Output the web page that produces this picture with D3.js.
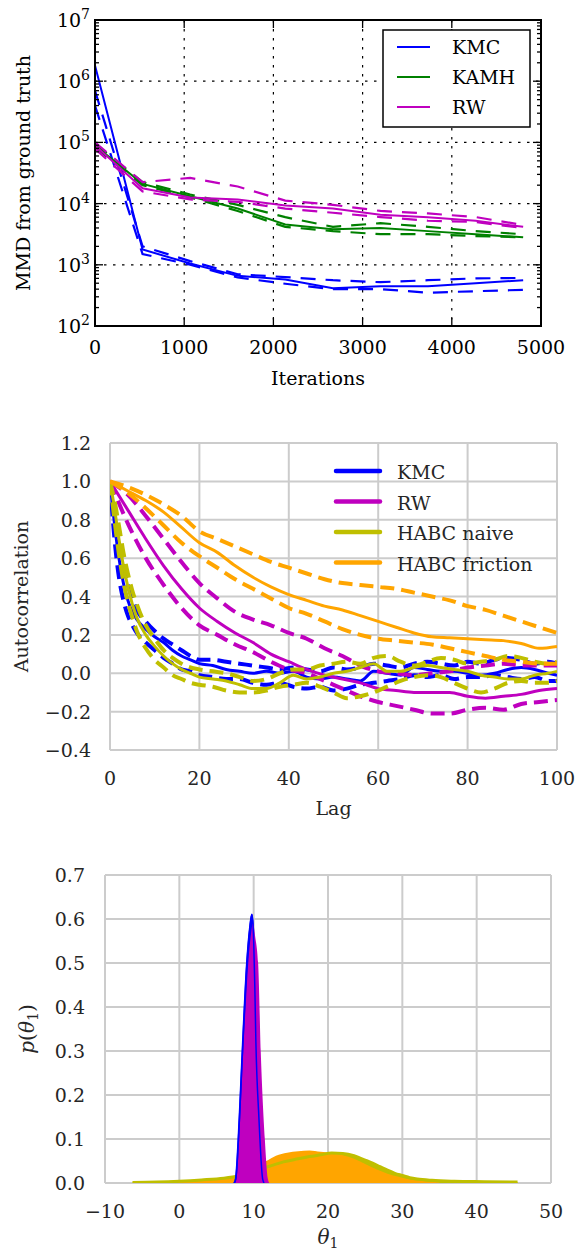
<!DOCTYPE html>
<html>
<head>
<meta charset="utf-8">
<script src="https://cdn.jsdelivr.net/npm/d3@7"></script>
<style>
  body { margin: 0; background: #fff; }
  svg { display: block; }
</style>
</head>
<body>
<svg id="fig" width="575" height="1257" font-family="'DejaVu Serif', 'Liberation Serif', serif"></svg>
<script>
// ---------- Panel 1: MMD from ground truth vs iterations ----------
const mmdIters = [0, 533, 1067, 1600, 2133, 2667, 3200, 3733, 4267, 4800];
const kmcMMD   = [1.8e6, 1780, 1050, 660, 575, 415, 445, 445, 500, 560];
const kmcMMDHi = [7.0e5, 2000, 1150, 700, 630, 560, 520, 560, 600, 610];
const kmcMMDLo = [4.0e5, 1500, 1000, 620, 490, 400, 400, 350, 370, 390];
const kamhMMD   = [8.9e4, 2.1e4, 1.32e4, 8300, 4570, 3800, 3980, 3550, 3160, 2820];
const kamhMMDHi = [9.5e4, 2.24e4, 1.41e4, 9550, 6000, 4170, 4790, 4170, 3550, 3160];
const kamhMMDLo = [8.3e4, 2.0e4, 1.26e4, 7590, 4170, 3550, 3160, 3160, 2950, 2820];
const rwMMD   = [8.9e4, 1.78e4, 1.26e4, 1.17e4, 9300, 8300, 6600, 6000, 5250, 4170];
const rwMMDHi = [1.0e5, 2.24e4, 2.63e4, 1.9e4, 1.12e4, 9550, 7590, 6900, 6030, 4470];
const rwMMDLo = [7.9e4, 1.58e4, 1.17e4, 1.07e4, 8300, 7080, 6030, 5250, 5010, 3980];
const mmdXTicks = [0, 1000, 2000, 3000, 4000, 5000];
const mmdYExps = [2, 3, 4, 5, 6, 7];
const mmdNames = ["KMC", "KAMH", "RW"];

// ---------- Panel 2: autocorrelation vs lag ----------
const lagsFine = [0,1,2,3,4,5,6,8,10,12,14,16,18,20,23,26,29,32,35,38,41,44,47,50,53,56,59,62,65,68,71,74,77,80,83,86,89,92,95,98,100];
const lagsCoarse = [0,4,8,12,16,20,24,28,32,36,40,44,48,52,56,60,64,68,72,76,80,84,88,92,96,100];
const acKmc   = [1.0,0.78,0.60,0.47,0.38,0.32,0.28,0.23,0.19,0.16,0.12,0.09,0.07,0.05,0.04,0.02,0.01,0.0,0.01,0.0,0.01,-0.02,-0.03,-0.02,-0.03,-0.04,0.01,0.0,-0.01,0.03,0.02,0.01,0.01,0.0,-0.01,0.0,0.02,0.03,0.02,0.0,-0.01];
const acKmcHi = [1.0,0.84,0.68,0.56,0.46,0.39,0.33,0.27,0.22,0.18,0.15,0.12,0.09,0.07,0.07,0.06,0.05,0.04,0.03,0.02,0.03,0.02,0.01,0.03,0.02,0.03,0.05,0.04,0.03,0.05,0.06,0.05,0.04,0.06,0.05,0.07,0.08,0.07,0.05,0.06,0.05];
const acKmcLo = [1.0,0.70,0.50,0.38,0.30,0.25,0.21,0.16,0.12,0.08,0.05,0.02,0.01,-0.01,-0.02,-0.03,-0.03,-0.05,-0.06,-0.05,-0.07,-0.08,-0.07,-0.09,-0.08,-0.06,-0.05,-0.04,-0.03,-0.01,-0.02,-0.01,-0.03,-0.02,-0.02,-0.01,-0.02,-0.03,-0.02,-0.04,-0.04];
const acNaive   = [1.0,0.86,0.70,0.56,0.45,0.36,0.29,0.20,0.14,0.09,0.05,0.02,0.0,-0.02,-0.03,-0.04,-0.06,-0.08,-0.08,-0.05,-0.01,-0.03,-0.02,0.0,0.01,0.03,0.05,0.01,0.01,0.03,0.04,0.03,0.02,0.01,-0.01,-0.02,-0.03,-0.03,-0.01,0.0,0.01];
const acNaiveHi = [1.0,0.90,0.77,0.63,0.52,0.43,0.36,0.25,0.18,0.12,0.08,0.05,0.03,0.02,0.01,0.0,-0.02,-0.04,-0.03,0.0,0.02,0.02,0.04,0.05,0.06,0.05,0.08,0.09,0.06,0.04,0.06,0.08,0.07,0.05,0.06,0.07,0.09,0.08,0.06,0.05,0.06];
const acNaiveLo = [1.0,0.80,0.62,0.48,0.37,0.29,0.22,0.13,0.07,0.03,-0.01,-0.03,-0.05,-0.06,-0.07,-0.09,-0.10,-0.10,-0.09,-0.07,-0.06,-0.05,-0.07,-0.10,-0.13,-0.12,-0.10,-0.07,-0.04,-0.02,-0.01,-0.02,-0.05,-0.08,-0.10,-0.08,-0.05,-0.04,-0.05,-0.05,-0.04];
const acRw   = [1.0,0.85,0.70,0.56,0.44,0.34,0.27,0.21,0.16,0.10,0.06,0.02,-0.01,-0.03,-0.05,-0.08,-0.09,-0.10,-0.10,-0.10,-0.12,-0.13,-0.12,-0.11,-0.09,-0.08];
const acRwHi = [1.0,0.93,0.82,0.70,0.58,0.47,0.39,0.32,0.28,0.25,0.21,0.18,0.13,0.09,0.04,0.01,0.0,-0.01,0.0,0.01,0.03,0.04,0.05,0.04,0.04,0.04];
const acRwLo = [1.0,0.78,0.60,0.46,0.34,0.25,0.20,0.15,0.11,0.06,0.02,0.0,-0.04,-0.08,-0.12,-0.15,-0.17,-0.19,-0.21,-0.21,-0.19,-0.18,-0.19,-0.16,-0.15,-0.14];
const acFric   = [1.0,0.95,0.90,0.84,0.76,0.68,0.63,0.56,0.50,0.45,0.41,0.38,0.35,0.33,0.30,0.27,0.24,0.21,0.19,0.185,0.18,0.175,0.17,0.155,0.13,0.14];
const acFricHi = [1.0,0.97,0.93,0.88,0.82,0.74,0.70,0.66,0.62,0.58,0.55,0.52,0.49,0.47,0.46,0.45,0.44,0.42,0.40,0.38,0.35,0.33,0.30,0.27,0.24,0.21];
const acFricLo = [1.0,0.94,0.86,0.77,0.68,0.61,0.55,0.49,0.44,0.39,0.34,0.31,0.27,0.23,0.20,0.18,0.17,0.16,0.15,0.13,0.11,0.09,0.07,0.06,0.05,0.05];
const acXTicks = [0, 20, 40, 60, 80, 100];
const acYTicks = [-0.4, -0.2, 0.0, 0.2, 0.4, 0.6, 0.8, 1.0, 1.2];
const acNames = ["KMC", "RW", "HABC naive", "HABC friction"];

// ---------- Panel 3: marginal posterior densities of theta_1 ----------
const kmcTheta = [7.4, 7.6, 8.1, 8.5, 9.1, 9.5, 9.76, 10.0, 10.15, 10.3, 10.7, 11.2, 11.4];
const kmcDens  = [0, 0.01, 0.15, 0.3, 0.5, 0.58, 0.61, 0.55, 0.45, 0.32, 0.15, 0.01, 0];
const rwTheta  = [7.5, 7.7, 8.2, 8.6, 8.85, 9.27, 9.6, 9.9, 10.2, 10.6, 10.95, 11.5, 11.9, 12.1];
const rwDens   = [0, 0.01, 0.15, 0.3, 0.38, 0.5, 0.56, 0.59, 0.56, 0.5, 0.3, 0.1, 0.01, 0];
const fricTheta = [-5,-2,0,3,5,7,8.5,9.5,10.5,11.7,13,14.5,16,17.5,19,20.5,22,23.5,25,26.5,28,29.5,31,33,35];
const fricDens  = [0.001,0.002,0.004,0.008,0.011,0.014,0.02,0.03,0.04,0.05,0.062,0.069,0.072,0.074,0.071,0.068,0.063,0.055,0.043,0.031,0.021,0.014,0.008,0.004,0.001];
const naiveTheta = [-6.3,-3,0,3,6,8,9.5,11,12.5,14,16,17.5,19,20.5,22,23.5,25,26,27,28,29,30,31,32,34,37,41,45.5];
const naiveDens  = [0.001,0.002,0.004,0.007,0.011,0.016,0.022,0.032,0.040,0.048,0.055,0.060,0.064,0.068,0.067,0.062,0.052,0.045,0.037,0.029,0.022,0.017,0.012,0.009,0.006,0.004,0.003,0.002];
const thXTicks = [-10, 0, 10, 20, 30, 40, 50];
const thYTicks = [0.0, 0.1, 0.2, 0.3, 0.4, 0.5, 0.6, 0.7];

const BLUE = "#0000ff", GREEN = "#008000", MAGENTA = "#bf00bf", OLIVE = "#bfbf00", ORANGE = "#ffa500";
const GRIDC = "#cccccc", TXT = "#262626";
const FS = 19;
const fmtNum = v => (v < 0 ? "\u2212" : "") + Math.abs(v);
const fmt1 = v => (v < 0 ? "\u2212" : "") + d3.format(".1f")(Math.abs(v));

const svg = d3.select("#fig");
const defs = svg.append("defs");
function clip(id, b) {
  defs.append("clipPath").attr("id", id).append("rect")
    .attr("x", b.l).attr("y", b.t).attr("width", b.r - b.l).attr("height", b.b - b.t);
}

// ================= Panel 1 =================
const p1 = { l: 95, r: 541, t: 20, b: 326 };
clip("c1", p1);
const x1 = d3.scaleLinear().domain([0, 5000]).range([p1.l, p1.r]);
const y1 = d3.scaleLog().domain([1e2, 1e7]).range([p1.b, p1.t]);
const g1 = svg.append("g");

// dotted grid
g1.selectAll(".vg").data(mmdXTicks.slice(1, -1)).join("line")
  .attr("x1", d => x1(d)).attr("x2", d => x1(d)).attr("y1", p1.t).attr("y2", p1.b)
  .attr("stroke", "#000").attr("stroke-width", 1.2).attr("stroke-dasharray", "2.5,6.5");
g1.selectAll(".hg").data(mmdYExps.slice(1, -1)).join("line")
  .attr("x1", p1.l).attr("x2", p1.r).attr("y1", d => y1(10 ** d)).attr("y2", d => y1(10 ** d))
  .attr("stroke", "#000").attr("stroke-width", 1.2).attr("stroke-dasharray", "2.5,6.5");

// curves
const mmdSets = [
  { c: BLUE, mid: kmcMMD, hi: kmcMMDHi, lo: kmcMMDLo },
  { c: GREEN, mid: kamhMMD, hi: kamhMMDHi, lo: kamhMMDLo },
  { c: MAGENTA, mid: rwMMD, hi: rwMMDHi, lo: rwMMDLo }
];
const line1 = d3.line().x((d, i) => x1(mmdIters[i])).y(d => y1(d));
const lg1 = g1.append("g").attr("clip-path", "url(#c1)");
mmdSets.forEach(s => {
  [s.hi, s.lo].forEach(arr => lg1.append("path").attr("d", line1(arr)).attr("fill", "none")
    .attr("stroke", s.c).attr("stroke-width", 2.2).attr("stroke-dasharray", "15,10"));
  lg1.append("path").attr("d", line1(s.mid)).attr("fill", "none")
    .attr("stroke", s.c).attr("stroke-width", 2);
});

// ticks (inward, all four sides)
const tk = (x1_, y1_, x2_, y2_) => g1.append("line").attr("x1", x1_).attr("y1", y1_).attr("x2", x2_).attr("y2", y2_)
  .attr("stroke", "#000").attr("stroke-width", 1.3);
mmdXTicks.forEach(v => { tk(x1(v), p1.b, x1(v), p1.b - 8); tk(x1(v), p1.t, x1(v), p1.t + 8); });
mmdYExps.forEach(e => {
  const y = y1(10 ** e);
  tk(p1.l, y, p1.l + 8, y); tk(p1.r, y, p1.r - 8, y);
  if (e < 7) for (let m = 2; m <= 9; m++) {
    const ym = y1(m * 10 ** e);
    tk(p1.l, ym, p1.l + 4, ym); tk(p1.r, ym, p1.r - 4, ym);
  }
});
g1.append("rect").attr("x", p1.l).attr("y", p1.t).attr("width", p1.r - p1.l).attr("height", p1.b - p1.t)
  .attr("fill", "none").attr("stroke", "#000").attr("stroke-width", 2);

// tick labels
g1.selectAll(".xl").data(mmdXTicks).join("text")
  .attr("x", d => x1(d)).attr("y", 354).attr("text-anchor", "middle").attr("font-size", FS).text(d => d);
mmdYExps.forEach(e => {
  const t = g1.append("text").attr("x", 90).attr("y", y1(10 ** e) + 7).attr("text-anchor", "end").attr("font-size", FS);
  t.append("tspan").text("10");
  t.append("tspan").attr("dy", -8).attr("font-size", 14).text(e);
});
g1.append("text").attr("x", (p1.l + p1.r) / 2).attr("y", 385).attr("text-anchor", "middle").attr("font-size", FS).text("Iterations");
g1.append("text").attr("transform", `translate(30,${(p1.t + p1.b) / 2}) rotate(-90)`)
  .attr("text-anchor", "middle").attr("font-size", FS).text("MMD from ground truth");

// legend
g1.append("rect").attr("x", 383).attr("y", 30).attr("width", 147).attr("height", 97)
  .attr("fill", "#fff").attr("stroke", "#000").attr("stroke-width", 1.5);
mmdNames.forEach((n, i) => {
  const y = 47 + i * 30;
  g1.append("line").attr("x1", 397).attr("x2", 430).attr("y1", y).attr("y2", y)
    .attr("stroke", mmdSets[i].c).attr("stroke-width", 2);
  g1.append("text").attr("x", 452).attr("y", y + 7).attr("font-size", FS).text(n);
});

// ================= Panel 2 =================
const p2 = { l: 110, r: 557, t: 443, b: 750 };
clip("c2", p2);
const x2 = d3.scaleLinear().domain([0, 100]).range([p2.l, p2.r]);
const y2 = d3.scaleLinear().domain([-0.4, 1.2]).range([p2.b, p2.t]);
const g2 = svg.append("g");
g2.selectAll(".vg").data(acXTicks).join("line")
  .attr("x1", d => x2(d)).attr("x2", d => x2(d)).attr("y1", p2.t).attr("y2", p2.b)
  .attr("stroke", GRIDC).attr("stroke-width", 2);
g2.selectAll(".hg").data(acYTicks).join("line")
  .attr("x1", p2.l).attr("x2", p2.r).attr("y1", d => y2(d)).attr("y2", d => y2(d))
  .attr("stroke", GRIDC).attr("stroke-width", 2);

const acSets = [
  { c: BLUE, lags: lagsFine, mid: acKmc, hi: acKmcHi, lo: acKmcLo },
  { c: MAGENTA, lags: lagsCoarse, mid: acRw, hi: acRwHi, lo: acRwLo },
  { c: OLIVE, lags: lagsFine, mid: acNaive, hi: acNaiveHi, lo: acNaiveLo },
  { c: ORANGE, lags: lagsCoarse, mid: acFric, hi: acFricHi, lo: acFricLo }
];
const lg2 = g2.append("g").attr("clip-path", "url(#c2)");
acSets.forEach(s => {
  const ln = d3.line().x((d, i) => x2(s.lags[i])).y(d => y2(d)).curve(d3.curveMonotoneX);
  [s.hi, s.lo].forEach(arr => lg2.append("path").attr("d", ln(arr)).attr("fill", "none")
    .attr("stroke", s.c).attr("stroke-width", 4).attr("stroke-dasharray", "14,7"));
  lg2.append("path").attr("d", ln(s.mid)).attr("fill", "none")
    .attr("stroke", s.c).attr("stroke-width", 3).attr("stroke-linejoin", "round");
});

g2.selectAll(".xl").data(acXTicks).join("text")
  .attr("x", d => x2(d)).attr("y", 785).attr("text-anchor", "middle").attr("font-size", FS)
  .attr("fill", TXT).text(fmtNum);
g2.selectAll(".yl").data(acYTicks).join("text")
  .attr("x", 91).attr("y", d => y2(d) + 7).attr("text-anchor", "end").attr("font-size", FS)
  .attr("fill", TXT).text(fmt1);
g2.append("text").attr("x", (p2.l + p2.r) / 2).attr("y", 815).attr("text-anchor", "middle")
  .attr("font-size", FS).attr("fill", TXT).text("Lag");
g2.append("text").attr("transform", `translate(28,${(p2.t + p2.b) / 2}) rotate(-90)`)
  .attr("text-anchor", "middle").attr("font-size", FS).attr("fill", TXT).text("Autocorrelation");

acNames.forEach((n, i) => {
  const y = 471 + i * 30.5;
  g2.append("line").attr("x1", 336).attr("x2", 380).attr("y1", y).attr("y2", y)
    .attr("stroke", acSets[i].c).attr("stroke-width", 4.5).attr("stroke-linecap", "round");
  g2.append("text").attr("x", 397).attr("y", y + 8).attr("font-size", FS).attr("fill", TXT).text(n);
});

// ================= Panel 3 =================
const p3 = { l: 105, r: 551, t: 875, b: 1183 };
clip("c3", p3);
const x3 = d3.scaleLinear().domain([-10, 50]).range([p3.l, p3.r]);
const y3 = d3.scaleLinear().domain([0, 0.7]).range([p3.b, p3.t]);
const g3 = svg.append("g");
g3.selectAll(".vg").data(thXTicks).join("line")
  .attr("x1", d => x3(d)).attr("x2", d => x3(d)).attr("y1", p3.t).attr("y2", p3.b)
  .attr("stroke", GRIDC).attr("stroke-width", 2);
g3.selectAll(".hg").data(thYTicks).join("line")
  .attr("x1", p3.l).attr("x2", p3.r).attr("y1", d => y3(d)).attr("y2", d => y3(d))
  .attr("stroke", GRIDC).attr("stroke-width", 2);

const lg3 = g3.append("g").attr("clip-path", "url(#c3)");
function densArea(th, ds) {
  return d3.area().x((d, i) => x3(th[i])).y0(y3(0)).y1(d => y3(d)).curve(d3.curveMonotoneX)(ds);
}
function densLine(th, ds) {
  return d3.line().x((d, i) => x3(th[i])).y(d => y3(d)).curve(d3.curveMonotoneX)(ds);
}
lg3.append("path").attr("d", densArea(naiveTheta, naiveDens)).attr("fill", OLIVE);
lg3.append("path").attr("d", densArea(fricTheta, fricDens)).attr("fill", ORANGE);
lg3.append("path").attr("d", densLine(naiveTheta, naiveDens)).attr("fill", "none")
  .attr("stroke", OLIVE).attr("stroke-width", 3);
lg3.append("path").attr("d", densArea(kmcTheta, kmcDens)).attr("fill", BLUE)
  .attr("stroke", BLUE).attr("stroke-width", 2);
lg3.append("path").attr("d", densArea(rwTheta, rwDens)).attr("fill", MAGENTA);
lg3.append("path").attr("d", densLine(kmcTheta, kmcDens)).attr("fill", "none")
  .attr("stroke", BLUE).attr("stroke-width", 1.5);

g3.selectAll(".xl").data(thXTicks).join("text")
  .attr("x", d => x3(d)).attr("y", 1218).attr("text-anchor", "middle").attr("font-size", FS)
  .attr("fill", TXT).text(fmtNum);
g3.selectAll(".yl").data(thYTicks).join("text")
  .attr("x", 85).attr("y", d => y3(d) + 7).attr("text-anchor", "end").attr("font-size", FS)
  .attr("fill", TXT).text(fmt1);
const tl = g3.append("text").attr("x", (p3.l + p3.r) / 2).attr("y", 1244).attr("text-anchor", "middle")
  .attr("font-size", 20).attr("fill", TXT);
tl.append("tspan").attr("font-style", "italic").text("\u03b8");
tl.append("tspan").attr("dy", 4).attr("font-size", 14).text("1");
const yl3 = g3.append("text").attr("transform", `translate(34,${(p3.t + p3.b) / 2}) rotate(-90)`)
  .attr("text-anchor", "middle").attr("font-size", 20).attr("fill", TXT);
yl3.append("tspan").attr("font-style", "italic").text("p");
yl3.append("tspan").text("(");
yl3.append("tspan").attr("font-style", "italic").text("\u03b8");
yl3.append("tspan").attr("dy", 4).attr("font-size", 14).text("1");
yl3.append("tspan").attr("dy", -4).text(")");
</script>
</body>
</html>
